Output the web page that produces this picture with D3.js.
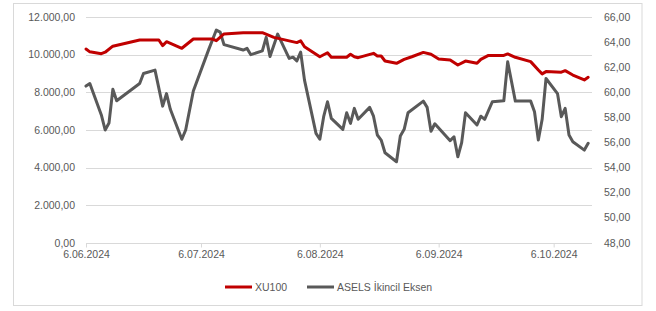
<!DOCTYPE html>
<html><head><meta charset="utf-8">
<script src="https://cdn.jsdelivr.net/npm/d3@7"></script>
<style>body{margin:0;background:#fff}svg{display:block}text{font-family:"Liberation Sans",Arial,sans-serif}</style>
</head><body><svg id="c" width="656" height="311"></svg>
<script>
const xu100Dates = ["2024-06-06","2024-06-07","2024-06-10","2024-06-11","2024-06-13","2024-06-20","2024-06-25","2024-06-26","2024-06-27","2024-07-01","2024-07-04","2024-07-09","2024-07-10","2024-07-12","2024-07-17","2024-07-22","2024-07-25","2024-07-31","2024-08-01","2024-08-02","2024-08-06","2024-08-08","2024-08-09","2024-08-13","2024-08-14","2024-08-15","2024-08-16","2024-08-20","2024-08-21","2024-08-22","2024-08-23","2024-08-26","2024-08-28","2024-08-30","2024-09-02","2024-09-04","2024-09-06","2024-09-09","2024-09-11","2024-09-13","2024-09-16","2024-09-17","2024-09-19","2024-09-23","2024-09-24","2024-09-26","2024-09-30","2024-10-02","2024-10-03","2024-10-04","2024-10-08","2024-10-09","2024-10-11","2024-10-14","2024-10-15"];
const xu100Values = [10300,10150,10050,10130,10450,10780,10780,10480,10690,10340,10830,10830,10740,11100,11170,11170,10920,10640,10740,10420,9890,10100,9860,9860,10020,9890,9840,10070,9930,9930,9665,9540,9750,9890,10120,10020,9770,9720,9450,9660,9540,9750,9960,9960,10040,9860,9630,9190,8980,9100,9070,9150,8920,8660,8800];

const aselsDates = ["2024-06-06","2024-06-07","2024-06-10","2024-06-11","2024-06-12","2024-06-13","2024-06-14","2024-06-20","2024-06-21","2024-06-24","2024-06-26","2024-06-27","2024-06-28","2024-07-01","2024-07-02","2024-07-04","2024-07-08","2024-07-10","2024-07-11","2024-07-12","2024-07-17","2024-07-18","2024-07-19","2024-07-22","2024-07-23","2024-07-24","2024-07-26","2024-07-29","2024-07-30","2024-07-31","2024-08-01","2024-08-02","2024-08-05","2024-08-06","2024-08-07","2024-08-08","2024-08-09","2024-08-12","2024-08-13","2024-08-14","2024-08-15","2024-08-16","2024-08-19","2024-08-20","2024-08-21","2024-08-22","2024-08-23","2024-08-26","2024-08-27","2024-08-28","2024-08-29","2024-09-02","2024-09-03","2024-09-04","2024-09-05","2024-09-09","2024-09-10","2024-09-11","2024-09-12","2024-09-13","2024-09-16","2024-09-17","2024-09-18","2024-09-20","2024-09-23","2024-09-24","2024-09-26","2024-09-30","2024-10-01","2024-10-02","2024-10-03","2024-10-04","2024-10-07","2024-10-08","2024-10-09","2024-10-10","2024-10-11","2024-10-14","2024-10-15"];
const aselsValues = [60.5,60.7,58.2,57.0,57.55,60.24,59.33,60.7,61.5,61.77,58.9,59.9,58.65,56.26,57.0,60.1,63.4,64.96,64.8,63.8,63.37,63.5,63.0,63.3,64.38,62.85,64.64,62.7,62.8,62.5,63.2,60.97,56.73,56.26,58.06,59.25,57.93,57.05,58.37,57.53,58.72,57.85,58.8,58.1,56.6,56.2,55.19,54.47,56.52,57.05,58.37,59.3,58.8,56.9,57.5,56.15,56.46,54.87,55.99,58.37,57.4,58.1,57.85,59.25,59.33,62.43,59.3,59.3,58.45,56.2,57.85,61.1,59.9,58.06,58.72,56.6,56.07,55.4,55.94];

const leftTicks = [0,2000,4000,6000,8000,10000,12000];
const rightTicks = [48,50,52,54,56,58,60,62,64,66];
const xTickDates = ["2024-06-06","2024-07-06","2024-08-06","2024-09-06","2024-10-06"];
const xDomain = ["2024-06-06","2024-10-16"];
const seriesNames = ["XU100","ASELS İkincil Eksen"];
const seriesColors = ["#C00000","#595959"];

const parse = d3.utcParse("%Y-%m-%d");
const svg = d3.select("#c");
const L=86,R=592,T=17,B=243;

svg.append("rect").attr("x",13.5).attr("y",3.5).attr("width",628.5).attr("height",302).attr("fill","#fff").attr("stroke","#D9D9D9");

const x = d3.scaleUtc().domain(xDomain.map(parse)).range([L,R]);
const yL = d3.scaleLinear().domain([0,12000]).range([B,T]);
const yR = d3.scaleLinear().domain([48,66]).range([B,T]);

const trFmt = d3.formatLocale({decimal:",",thousands:".",grouping:[3],currency:["","₺"]});
const fL = trFmt.format(",.2f");

// gridlines
svg.append("g").selectAll("line").data(leftTicks.filter(d=>d>0)).join("line")
  .attr("x1",L).attr("x2",R).attr("y1",d=>Math.round(yL(d))+0.5).attr("y2",d=>Math.round(yL(d))+0.5)
  .attr("stroke","#D9D9D9").attr("stroke-width",1);

// left axis labels
svg.append("g").selectAll("text").data(leftTicks).join("text")
  .attr("x",75).attr("y",d=>yL(d)+3.5).attr("text-anchor","end")
  .attr("font-size",10.5).attr("fill","#595959").text(d=>fL(d));
// right axis labels
svg.append("g").selectAll("text").data(rightTicks).join("text")
  .attr("x",604).attr("y",d=>yR(d)+3.5).attr("text-anchor","start")
  .attr("font-size",10.5).attr("fill","#595959").text(d=>fL(d));

// x axis
const xAxis = d3.axisBottom(x).tickValues(xTickDates.map(parse)).tickSize(4)
  .tickFormat(d=>`${d.getUTCDate()}.${String(d.getUTCMonth()+1).padStart(2,"0")}.${d.getUTCFullYear()}`);
const gx = svg.append("g").attr("transform",`translate(0,${B+0.5})`).call(xAxis);
gx.select(".domain").attr("stroke","#D9D9D9").attr("d",`M${L},0H${R}`);
gx.selectAll(".tick line").attr("stroke","#D9D9D9");
gx.selectAll(".tick text").attr("font-size",10.5).attr("fill","#595959").attr("font-family","Liberation Sans, Arial, sans-serif").attr("dy",null).attr("y",14);

// lines
const xuData = xu100Dates.map((d,i)=>({d:parse(d),v:xu100Values[i]}));
const asData = aselsDates.map((d,i)=>({d:parse(d),v:aselsValues[i]}));
svg.append("path").datum(asData).attr("fill","none").attr("stroke",seriesColors[1]).attr("stroke-width",3).attr("stroke-linejoin","round").attr("stroke-linecap","round")
  .attr("d",d3.line().x(p=>x(p.d)).y(p=>yR(p.v)));
svg.append("path").datum(xuData).attr("fill","none").attr("stroke",seriesColors[0]).attr("stroke-width",3).attr("stroke-linejoin","round").attr("stroke-linecap","round")
  .attr("d",d3.line().x(p=>x(p.d)).y(p=>yL(p.v)));

// legend
const legX=[225,307];
const lg = svg.append("g");
seriesNames.forEach((n,i)=>{
  lg.append("line").attr("x1",legX[i]).attr("x2",legX[i]+27).attr("y1",287).attr("y2",287).attr("stroke",seriesColors[i]).attr("stroke-width",3);
  lg.append("text").attr("x",legX[i]+30).attr("y",291).attr("font-size",10.5).attr("fill","#595959").text(n);
});
</script></body></html>
